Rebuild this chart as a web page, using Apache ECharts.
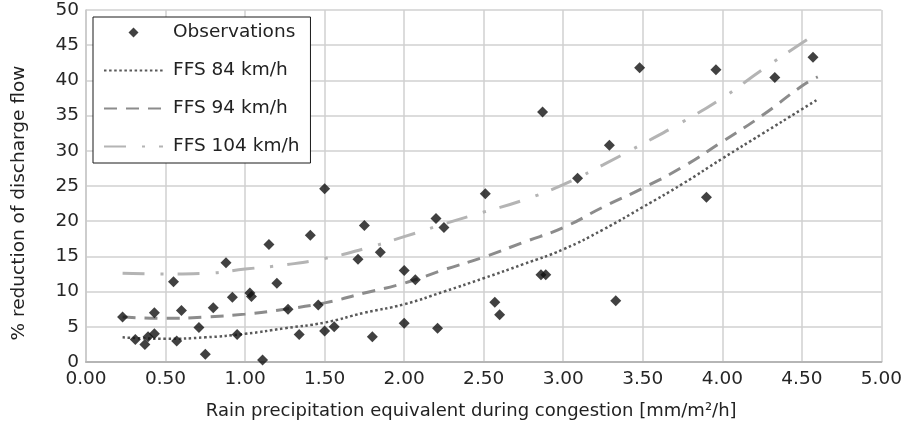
<!DOCTYPE html>
<html>
<head>
<meta charset="utf-8">
<title>Discharge flow reduction vs rain</title>
<script src="https://cdn.jsdelivr.net/npm/echarts@6/dist/echarts.min.js"></script>
<style>
  html, body { margin: 0; padding: 0; background: #fff; }
  #chart { width: 905px; height: 425px; }
</style>
</head>
<body>
<div id="chart"></div>
<script>
// observations (rain equivalent, % reduction)
const obsX = [0.23, 0.31, 0.37, 0.39, 0.43, 0.43, 0.55, 0.57, 0.60, 0.71, 0.75, 0.80, 0.88, 0.92, 0.95,
  1.03, 1.04, 1.11, 1.15, 1.20, 1.27, 1.34, 1.41, 1.46, 1.50, 1.50, 1.56, 1.71, 1.75, 1.80, 1.85,
  2.00, 2.00, 2.07, 2.20, 2.25, 2.21, 2.51, 2.57, 2.60, 2.87, 2.86, 2.89, 3.09, 3.29, 3.33, 3.48,
  3.90, 3.96, 4.33, 4.57];
const obsY = [6.4, 3.2, 2.5, 3.6, 4.0, 7.0, 11.4, 3.0, 7.3, 4.9, 1.1, 7.7, 14.1, 9.2, 3.9,
  9.8, 9.3, 0.3, 16.7, 11.2, 7.5, 3.9, 18.0, 8.1, 24.6, 4.4, 5.0, 14.6, 19.4, 3.6, 15.6,
  13.0, 5.5, 11.7, 20.4, 19.1, 4.8, 23.9, 8.5, 6.7, 35.5, 12.4, 12.4, 26.1, 30.8, 8.7, 41.8,
  23.4, 41.5, 40.4, 43.3];

// fitted curves
const curveX = [0.23, 0.5, 0.75, 1.0, 1.25, 1.5, 1.75, 2.0, 2.25, 2.5, 2.75, 3.0, 3.25, 3.5, 3.75, 4.0, 4.25, 4.5, 4.6];
const ffs84 = [3.5, 3.3, 3.5, 4.0, 4.8, 5.6, 7.0, 8.2, 10.0, 11.9, 13.9, 16.0, 18.8, 22.0, 25.3, 28.9, 32.4, 35.9, 37.3];
const ffs94 = [6.4, 6.2, 6.4, 6.8, 7.5, 8.4, 9.8, 11.2, 13.1, 14.9, 17.0, 19.1, 22.0, 24.7, 27.7, 31.3, 35.0, 39.2, 40.5];
const ffs104 = [12.6, 12.5, 12.6, 13.2, 13.8, 14.7, 16.1, 17.8, 19.6, 21.3, 23.0, 25.2, 28.0, 31.0, 34.1, 37.5, 41.5, 45.3, 46.8];

const seriesNames = ["Observations", "FFS 84 km/h", "FFS 94 km/h", "FFS 104 km/h"];

const font = "DejaVu Sans";
const zip = (xs, ys) => xs.map((x, i) => [x, ys[i]]);

const chart = echarts.init(document.getElementById("chart"));

chart.setOption({
  animation: false,
  grid: { left: 86, right: 16, top: 10, bottom: 62 },
  legend: {
    data: [
      { name: seriesNames[0], icon: "path://M5,0L10,5L5,10L0,5Z" },
      // hide the little circle echarts puts in the middle of line icons
      { name: seriesNames[1], itemStyle: { opacity: 0 } },
      { name: seriesNames[2], itemStyle: { opacity: 0 } },
      { name: seriesNames[3], itemStyle: { opacity: 0 } },
    ],
    orient: "vertical",
    left: 93,
    top: 17,
    padding: [6, 11, 7, 10],
    itemGap: 19,
    itemWidth: 59,
    itemHeight: 10,
    symbolKeepAspect: true,
    backgroundColor: "#fff",
    borderColor: "#1a1a1a",
    borderWidth: 1,
    textStyle: { fontFamily: font, fontSize: 18.5, color: "#222", padding: [0, 0, 0, 5] },
  },
  xAxis: {
    type: "value",
    min: 0,
    max: 5,
    interval: 0.5,
    name: "Rain precipitation equivalent during congestion [mm/m²/h]",
    nameLocation: "middle",
    nameGap: 40,
    nameTextStyle: { fontFamily: font, fontSize: 18, color: "#222", padding: [0, 25, 0, 0] },
    axisLine: { lineStyle: { color: "#b5b5b5", width: 2 } },
    axisTick: { show: false },
    axisLabel: {
      fontFamily: font, fontSize: 18.5, color: "#262626", margin: 8,
      formatter: (v) => v.toFixed(2),
    },
    splitLine: { show: true, lineStyle: { color: "#d0d0d0", width: 1.5 } },
  },
  yAxis: {
    type: "value",
    min: 0,
    max: 50,
    interval: 5,
    name: "% reduction of discharge flow",
    nameLocation: "middle",
    nameRotate: 90,
    nameGap: 57,
    nameTextStyle: { fontFamily: font, fontSize: 18.5, color: "#222", padding: [0, 34, 0, 0] },
    axisLine: { show: true, lineStyle: { color: "#c8c8c8", width: 1.5 } },
    axisTick: { show: false },
    axisLabel: { fontFamily: font, fontSize: 18.5, color: "#262626", margin: 7 },
    splitLine: { show: true, lineStyle: { color: "#d0d0d0", width: 1.5 } },
  },
  series: [
    {
      name: seriesNames[0],
      type: "scatter",
      symbol: "diamond",
      symbolSize: 11,
      itemStyle: { color: "#111" },
      data: zip(obsX, obsY),
      z: 5,
    },
    {
      name: seriesNames[1],
      type: "line",
      smooth: true,
      showSymbol: false,
      color: "#595959",
      lineStyle: { color: "#595959", width: 2.5, type: [2.5, 2.6] },
      data: zip(curveX, ffs84),
    },
    {
      name: seriesNames[2],
      type: "line",
      smooth: true,
      showSymbol: false,
      color: "#8c8c8c",
      lineStyle: { color: "#8c8c8c", width: 3, type: [13, 9] },
      data: zip(curveX, ffs94),
    },
    {
      name: seriesNames[3],
      type: "line",
      smooth: true,
      showSymbol: false,
      color: "#b4b4b4",
      lineStyle: { color: "#b4b4b4", width: 3, type: [22, 16, 3, 14] },
      data: zip(curveX, ffs104),
    },
  ],
});
</script>
</body>
</html>
